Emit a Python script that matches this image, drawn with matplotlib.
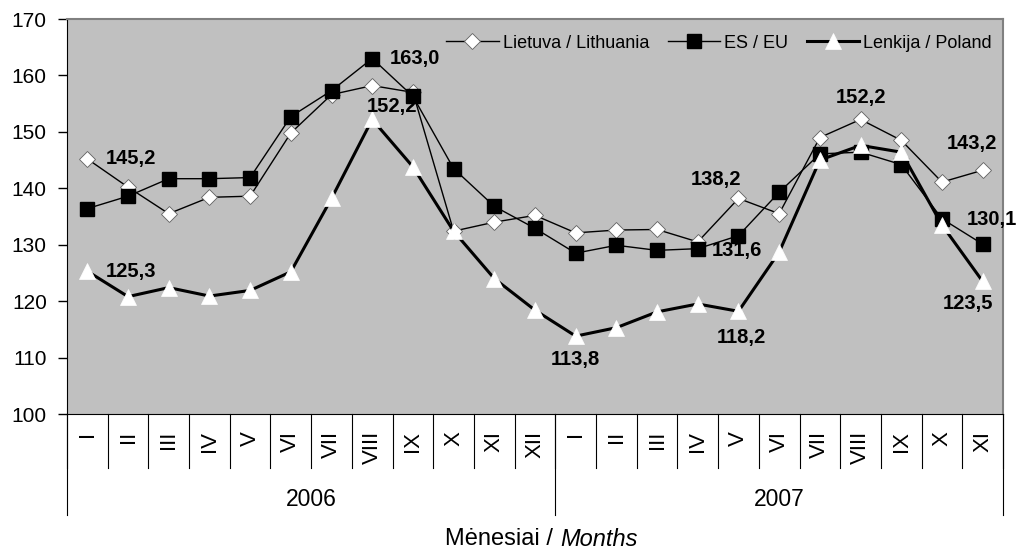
import matplotlib
matplotlib.use("Agg")
import matplotlib.pyplot as plt
import matplotlib.transforms as mtransforms

plt.rcParams['font.family'] = ['Liberation Sans', 'DejaVu Sans']

months = ["I", "II", "III", "IV", "V", "VI", "VII", "VIII", "IX", "X", "XI", "XII",
          "I", "II", "III", "IV", "V", "VI", "VII", "VIII", "IX", "X", "XI"]
years = ["2006", "2007"]
year_counts = [12, 11]

lithuania = [145.2, 140.2, 135.5, 138.4, 138.6, 149.8, 156.6, 158.2, 157.0, 132.4, 134.0, 135.2,
             132.1, 132.6, 132.7, 130.5, 138.2, 135.5, 149.0, 152.2, 148.5, 141.1, 143.2]
eu = [136.4, 138.6, 141.7, 141.7, 141.9, 152.7, 157.3, 163.0, 156.3, 143.5, 136.8, 132.9,
      128.5, 129.9, 129.0, 129.3, 131.6, 139.3, 146.1, 146.4, 144.2, 134.6, 130.1]
poland = [125.3, 120.8, 122.4, 120.9, 121.9, 125.2, 138.2, 152.2, 143.8, 132.4, 124.0, 118.4,
          113.8, 115.3, 118.1, 119.5, 118.2, 128.7, 145.0, 147.6, 146.4, 133.5, 123.5]

labels_series = ["Lietuva / Lithuania", "ES / EU", "Lenkija / Poland"]

W, H = 1019, 551
fig = plt.figure(figsize=(W / 100, H / 100), dpi=100)
ax = fig.add_axes([67 / W, (H - 414) / H, (1003 - 67) / W, (414 - 19) / H])
ax.set_facecolor('#C0C0C0')

x = list(range(len(months)))
ax.plot(x, lithuania, color='black', lw=1.0, marker='D', ms=8.5, mfc='white',
        mec='#606060', mew=0.6, label=labels_series[0], zorder=3)
ax.plot(x, eu, color='black', lw=1.0, marker='s', ms=10, mfc='black',
        mec='black', label=labels_series[1], zorder=4)
ax.plot(x, poland, color='black', lw=2.2, marker='^', ms=12, mfc='white',
        mec='white', mew=0.5, label=labels_series[2], zorder=5)

ax.set_xlim(-0.5, len(months) - 0.5)
ax.set_ylim(100, 170)
ax.set_yticks(range(100, 171, 10))
ax.tick_params(axis='y', labelsize=15, direction='out', length=6.5, width=1, pad=8)
ax.set_xticks([])
for side in ['top', 'right']:
    ax.spines[side].set_color('#808080')
    ax.spines[side].set_linewidth(1.5)
ax.spines['left'].set_color('black')
ax.spines['bottom'].set_color('black')

# data labels: (series, index, dx_px, dy_px, ha)
series_map = {'lt': lithuania, 'eu': eu, 'pl': poland}
annots = [('lt', 0, 18, 0, 'left'),
          ('pl', 0, 18, 0, 'left'),
          ('eu', 7, 18, 0, 'left'),
          ('pl', 7, 20, 13, 'center'),
          ('pl', 12, 0, -23, 'center'),
          ('pl', 16, 3, -26, 'center'),
          ('lt', 16, -22, 19, 'center'),
          ('eu', 16, -2, -15, 'center'),
          ('lt', 19, 0, 22, 'center'),
          ('lt', 22, -11, 27, 'center'),
          ('eu', 22, -16, 25, 'left'),
          ('pl', 22, -15, -22, 'center')]
for s, i, dx, dy, ha in annots:
    v = series_map[s][i]
    ax.annotate(f"{v:.1f}".replace('.', ','), (i, v), xytext=(dx, dy),
                textcoords='offset pixels', ha=ha, va='center', fontsize=14.5,
                fontweight='bold', zorder=6, annotation_clip=False)

leg = ax.legend(loc='center right', ncol=3, frameon=False, fontsize=13,
                handlelength=2.9, columnspacing=1.0, handletextpad=0.25,
                borderpad=0, borderaxespad=0,
                bbox_to_anchor=(992 / W, 1 - 43 / H),
                bbox_transform=fig.transFigure)

# category axis
trans = mtransforms.blended_transform_factory(ax.transData, ax.transAxes)
h = 395.0
for k in range(len(months) + 1):
    ax.plot([k - 0.5, k - 0.5], [0, -(468 - 414) / h], color='black', lw=0.8,
            transform=trans, clip_on=False)
for k, m in enumerate(months):
    ax.text(k, -(431 - 414) / h, m, rotation=90, ha='center', va='top',
            fontsize=16, transform=trans)
start = 0
bounds = [-0.5]
for y, c in zip(years, year_counts):
    ax.text(start + (c - 1) / 2, -(500 - 414) / h, y, ha='center', va='center',
            fontsize=16.5, transform=trans)
    start += c
    bounds.append(start - 0.5)
for b in bounds:
    ax.plot([b, b], [0, -(515 - 414) / h], color='black', lw=0.8,
            transform=trans, clip_on=False)

fig.text(560 / W, 1 - 539 / H, "Mėnesiai / ", ha='right', va='center', fontsize=17)
fig.text(560 / W, 1 - 539 / H, "Months", ha='left', va='center', fontsize=17,
         style='italic')

fig.savefig("out.png", dpi=100)
